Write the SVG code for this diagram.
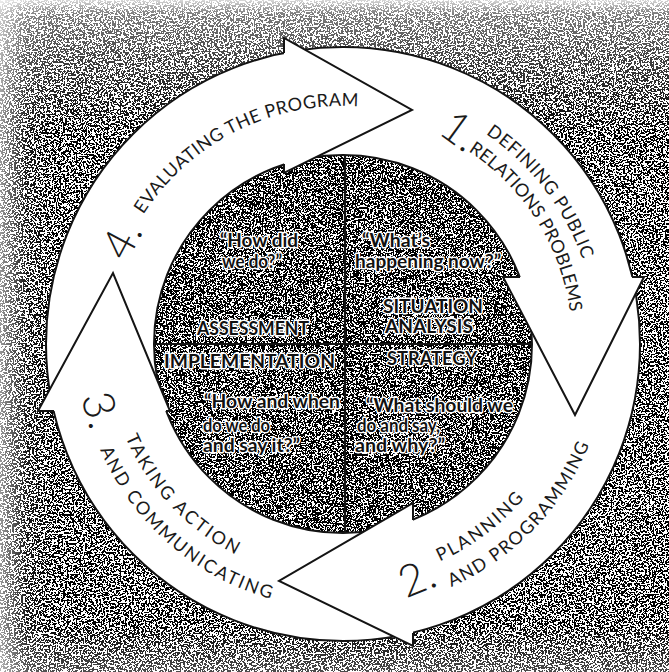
<svg xmlns="http://www.w3.org/2000/svg" width="669" height="672" viewBox="0 0 669 672">
<defs>
<filter id="grain" x="0" y="0" width="669" height="672" filterUnits="userSpaceOnUse" color-interpolation-filters="sRGB">
<feTurbulence type="fractalNoise" baseFrequency="0.55" numOctaves="2" seed="11"/>
<feColorMatrix type="matrix" values="0 0 0 0 0  0 0 0 0 0  0 0 0 0 0  1 0 0 0 0"/>
<feComponentTransfer><feFuncA type="discrete" tableValues="0 0 0 0 0 0 0 0 0 0 1 1 1 1 1 1 1 1 1 1"/></feComponentTransfer>
</filter>
<filter id="grain2" x="0" y="0" width="669" height="672" filterUnits="userSpaceOnUse" color-interpolation-filters="sRGB">
<feTurbulence type="fractalNoise" baseFrequency="0.6" numOctaves="2" seed="29"/>
<feColorMatrix type="matrix" values="0 0 0 0 0  0 0 0 0 0  0 0 0 0 0  1 0 0 0 0"/>
<feComponentTransfer><feFuncA type="discrete" tableValues="0 0 0 0 0 0 0 0 0 0 0 0 1 1 1 1 1 1 1 1"/></feComponentTransfer>
</filter>
<clipPath id="diskClip"><circle cx="343" cy="344" r="189"/></clipPath>
<linearGradient id="fadeTop" x1="0" y1="0" x2="0" y2="1">
<stop offset="0" stop-color="#fff" stop-opacity="0.85"/>
<stop offset="0.02" stop-color="#fff" stop-opacity="0.5"/>
<stop offset="0.09" stop-color="#fff" stop-opacity="0.25"/>
<stop offset="0.2" stop-color="#fff" stop-opacity="0"/>
<stop offset="0.93" stop-color="#fff" stop-opacity="0"/>
<stop offset="1" stop-color="#fff" stop-opacity="0.3"/>
</linearGradient>
<linearGradient id="fadeLeft" x1="0" y1="0" x2="1" y2="0">
<stop offset="0" stop-color="#fff" stop-opacity="0.6"/>
<stop offset="0.04" stop-color="#fff" stop-opacity="0.1"/>
<stop offset="0.08" stop-color="#fff" stop-opacity="0"/>
</linearGradient>
<path id="p4" d="M143.4,214.4 A238,238 0 0 1 384.3,109.6"/>
<path id="p1a" d="M485.8,133.9 A254,254 0 0 1 593.1,299.9"/>
<path id="p1b" d="M468.3,151.1 A229,229 0 0 1 572,344"/>
<path id="p2a" d="M439.8,561.4 A238,238 0 0 0 549.1,463"/>
<path id="p2b" d="M451.2,587 A266,266 0 0 0 599.9,412.8"/>
<path id="p3a" d="M125.6,437.2 A236.5,236.5 0 0 0 262.1,566.2"/>
<path id="p3b" d="M100,449.7 A265,265 0 0 0 297,605"/>
<style>
.ring{fill:#fff;fill-rule:evenodd;stroke:none}
.rim{fill:none;stroke:#141414;stroke-width:2}
.head{fill:#fff;stroke:none}
.edge{fill:none;stroke:#141414;stroke-width:2;stroke-linejoin:miter}
.cross{stroke:#141414;stroke-width:2.2}
.lbl{font-family:Lato,"Liberation Sans",sans-serif;font-size:18px;font-weight:400;fill:#1a1a1a}
.num{font-family:Lato,"Liberation Sans",sans-serif;font-size:44px;font-weight:300;fill:#1a1a1a;text-anchor:middle}
.q{font-family:Lato,"Liberation Sans",sans-serif;font-size:19px;font-weight:700;fill:#111;stroke:#fff;stroke-width:2.8;paint-order:stroke;stroke-linejoin:round}
</style>
</defs>

<g id="background">
<rect width="669" height="672" fill="#fff"/>
<rect width="669" height="672" fill="#000" filter="url(#grain)"/>
<g clip-path="url(#diskClip)"><rect width="669" height="672" fill="#000" filter="url(#grain2)"/></g>
<rect width="669" height="672" fill="url(#fadeTop)"/>
<rect width="669" height="672" fill="url(#fadeLeft)"/>
</g>

<g id="quadrant-lines">
<line class="cross" x1="345" y1="154" x2="345" y2="534"/>
<line class="cross" x1="154" y1="344" x2="532" y2="344"/>
</g>

<g id="connectors">
<path class="ring" d="M46,344 A297,297 0 1 0 640,344 A297,297 0 1 0 46,344 Z M154,344 A189,189 0 1 0 532,344 A189,189 0 1 0 154,344 Z"/>
<circle class="rim" cx="343" cy="344" r="297"/>
<circle class="rim" cx="343" cy="344" r="189"/>
<polygon class="head" points="284,38 412,110 284,173"/>
<polygon class="head" points="644,277 575,415 503,277"/>
<polygon class="head" points="413,503 279,581 413,646"/>
<polygon class="head" points="38,411 113,273 170,411"/>
<path class="edge" d="M284,53 L284,38 L412,110 L284,173 L284,164"/>
<path class="edge" d="M632,277 L644,277 L575,415 L503,277 L520,277"/>
<path class="edge" d="M413,520 L413,503 L279,581 L413,646 L413,633"/>
<path class="edge" d="M54,411 L38,411 L113,273 L170,411 L166,411"/>
</g>

<g id="stage-1">
<text class="num" transform="translate(460,131) rotate(36)" y="15">1.</text>
<text class="lbl"><textPath href="#p1a" textLength="161" lengthAdjust="spacing">DEFINING PUBLIC</textPath></text>
<text class="lbl"><textPath href="#p1b" textLength="196" lengthAdjust="spacing">RELATIONS PROBLEMS</textPath></text>
</g>

<g id="stage-2">
<text class="num" transform="translate(417,578) rotate(-22)" y="15">2.</text>
<text class="lbl"><textPath href="#p2a" textLength="106" lengthAdjust="spacing">PLANNING</textPath></text>
<text class="lbl"><textPath href="#p2b" textLength="203" lengthAdjust="spacing">AND PROGRAMMING</textPath></text>
</g>

<g id="stage-3">
<text class="num" transform="translate(100,410) rotate(74)" y="15">3.</text>
<text class="lbl"><textPath href="#p3a" textLength="164" lengthAdjust="spacing">TAKING ACTION</textPath></text>
<text class="lbl"><textPath href="#p3b" textLength="234" lengthAdjust="spacing">AND COMMUNICATING</textPath></text>
</g>

<g id="stage-4">
<text class="num" transform="translate(122,240) rotate(-62)" y="15">4.</text>
<text class="lbl"><textPath href="#p4" textLength="252" lengthAdjust="spacing">EVALUATING THE PROGRAM</textPath></text>
</g>

<g id="quadrant-assessment">
<text class="q" x="220" y="247" textLength="78" lengthAdjust="spacingAndGlyphs">“How did</text>
<text class="q" x="222" y="268" textLength="60" lengthAdjust="spacingAndGlyphs">we do?”</text>
<text class="q" x="197" y="335" textLength="112" lengthAdjust="spacingAndGlyphs">ASSESSMENT</text>
</g>

<g id="quadrant-situation-analysis">
<text class="q" x="362" y="247" textLength="68" lengthAdjust="spacingAndGlyphs">“What’s</text>
<text class="q" x="355" y="268" textLength="146" lengthAdjust="spacingAndGlyphs">happening now?”</text>
<text class="q" x="383" y="313" textLength="100" lengthAdjust="spacingAndGlyphs">SITUATION</text>
<text class="q" x="385" y="333" textLength="88" lengthAdjust="spacingAndGlyphs">ANALYSIS</text>
</g>

<g id="quadrant-strategy">
<text class="q" x="387" y="365" textLength="90" lengthAdjust="spacingAndGlyphs">STRATEGY</text>
<text class="q" x="366" y="412" textLength="147" lengthAdjust="spacingAndGlyphs">“What should we</text>
<text class="q" x="357" y="432" textLength="83" lengthAdjust="spacingAndGlyphs">do and say,</text>
<text class="q" x="355" y="452" textLength="90" lengthAdjust="spacingAndGlyphs">and why?”</text>
</g>

<g id="quadrant-implementation">
<text class="q" x="164" y="368" textLength="171" lengthAdjust="spacingAndGlyphs">IMPLEMENTATION</text>
<text class="q" x="204" y="408" textLength="136" lengthAdjust="spacingAndGlyphs">“How and when</text>
<text class="q" x="203" y="432" textLength="67" lengthAdjust="spacingAndGlyphs">do we do</text>
<text class="q" x="203" y="452" textLength="97" lengthAdjust="spacingAndGlyphs">and say it?”</text>
</g>
</svg>
